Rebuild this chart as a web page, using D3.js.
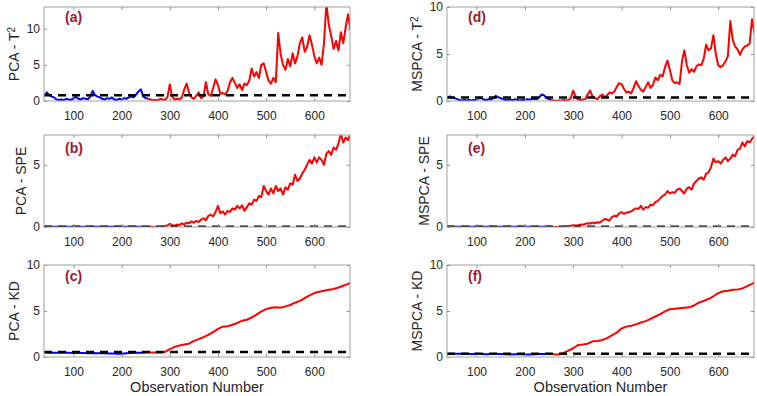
<!DOCTYPE html>
<html>
<head>
<meta charset="utf-8">
<script src="https://cdn.jsdelivr.net/npm/d3@7"></script>
<style>
  body { margin: 0; background: #fff; }
  svg { display: block; font-family: "Liberation Sans", Arial, Helvetica, sans-serif; }
</style>
</head>
<body>
<svg id="chart" width="757" height="396"></svg>
<script>
// Observation numbers (sampled)
const obs5 = d3.range(40, 676, 5);
const obs10 = d3.range(40, 671, 10).concat([675]);
const xTicks = [100, 200, 300, 400, 500, 600];
const splitObs = 255; // blue = normal, red = fault

// (a) PCA - T2
const pcaT2 = [
  0.7, 1.2, 0.8, 0.6, 0.5, 0.2, 0.15, 0.2, 0.1, 0.3,
  0.2, 0.15, 0.35, 0.6, 0.3, 0.2, 0.4, 0.3, 0.25, 0.6,
  1.4, 0.8, 0.6, 0.5, 0.3, 0.2, 0.4, 0.3, 0.5, 0.2,
  0.15, 0.3, 0.2, 0.4, 0.3, 0.5, 0.6, 0.5, 0.9, 1.3,
  1.6, 0.6, 0.4, 0.3,
  0.2, 0.1, 0.15, 0.1, 0.3, 0.2, 0.15, 0.5, 2.3, 0.6,
  0.2, 0.3, 0.2, 0.5, 1.6, 2.4, 1.1, 0.5, 0.3, 0.7,
  1.2, 0.4, 0.6, 2.6, 0.9, 0.7, 1.8, 3.0, 2.2, 1.0,
  1.1, 0.9, 1.4, 2.6, 3.2, 2.5, 1.8, 2.3, 1.5, 2.4,
  2.2, 2.8, 4.5, 3.4, 4.0, 3.2, 5.0, 5.2, 4.0, 2.8,
  2.4, 3.2, 2.6, 9.4, 6.5, 5.0, 4.3, 5.8, 4.8, 6.6,
  5.2, 6.2, 8.0, 8.8, 6.8, 7.5, 9.1, 7.8, 6.2, 5.2,
  6.0, 5.0, 8.0, 13.5, 10.5, 9.0, 7.2, 8.3, 7.0, 9.5,
  8.0, 10.2, 12.0, 9.8
];

// (b) PCA - SPE
const pcaSPE = [
  0.03, 0.02, 0.03, 0.02, 0.02, 0.03, 0.02, 0.02, 0.03, 0.02,
  0.02, 0.03, 0.02, 0.02, 0.03, 0.02, 0.02, 0.03, 0.02, 0.02,
  0.03, 0.02, 0.02, 0.03, 0.02, 0.02, 0.03, 0.02, 0.02, 0.03,
  0.02, 0.02, 0.03, 0.02, 0.02, 0.03, 0.02, 0.02, 0.03, 0.02,
  0.02, 0.03, 0.02, 0.02,
  0.02, 0.01, 0.02, 0.03, 0.02, 0.05, 0.08, 0.12, 0.25, 0.15,
  0.1, 0.2, 0.15, 0.3, 0.2, 0.35, 0.3, 0.45, 0.35, 0.5,
  0.4, 0.6, 0.7, 0.55, 0.9, 1.0, 0.85, 1.2, 1.7, 1.1,
  1.25, 1.0, 1.3, 1.2, 1.5, 1.4, 1.7, 1.5, 1.75, 1.3,
  1.6, 1.9, 1.8, 2.2, 2.1, 2.5, 2.4, 3.3, 2.9, 2.6,
  3.1, 2.7, 3.3, 2.9, 3.1, 2.6, 3.2, 3.0, 3.5, 3.4,
  4.2, 3.7, 3.9, 4.3, 4.6, 5.0, 5.4, 5.1, 5.6, 5.2,
  5.6, 5.4, 5.0, 5.9, 6.1, 5.8, 6.4, 6.2, 6.7, 7.5,
  6.8, 7.2, 7.0, 7.5
];

// (c) PCA - KD
const pcaKD = [
  0.48, 0.47, 0.46, 0.47, 0.45, 0.46, 0.44, 0.45, 0.43, 0.42,
  0.44, 0.42, 0.40, 0.39, 0.38, 0.36, 0.35, 0.40, 0.43, 0.45,
  0.47, 0.48,
  0.5, 0.5, 0.5, 0.55, 0.85, 1.1, 1.25, 1.35, 1.45, 1.75,
  1.95, 2.15, 2.4, 2.7, 3.05, 3.3, 3.35, 3.5, 3.7, 3.95,
  4.05, 4.3, 4.6, 4.95, 5.2, 5.35, 5.4, 5.35, 5.5, 5.65,
  5.9, 6.1, 6.4, 6.7, 6.95, 7.1, 7.2, 7.3, 7.4, 7.55,
  7.75, 7.95, 8.05
];

// (d) MSPCA - T2
const mspcaT2 = [
  0.3, 0.5, 0.35, 0.3, 0.2, 0.1, 0.05, 0.1, 0.05, 0.1,
  0.05, 0.1, 0.15, 0.3, 0.3, 0.15, 0.1, 0.2, 0.15, 0.3,
  0.55, 0.4, 0.3, 0.2, 0.1, 0.1, 0.15, 0.1, 0.2, 0.1,
  0.05, 0.1, 0.1, 0.2, 0.15, 0.2, 0.25, 0.2, 0.4, 0.7,
  0.6, 0.3, 0.2, 0.1,
  0.05, 0.02, 0.05, 0.02, 0.1, 0.05, 0.1, 0.3, 1.1, 0.5,
  0.15, 0.1, 0.15, 0.2, 0.7, 1.1, 0.5, 0.3, 0.2, 0.5,
  0.7, 0.4, 0.6, 0.9, 0.8, 1.0, 1.5, 1.9, 1.8, 1.3,
  0.9, 1.0, 0.8, 1.4, 2.1, 1.6, 1.2, 1.0, 1.5, 2.0,
  1.4, 1.7, 2.5, 2.2, 2.8, 2.6, 3.6, 4.3, 3.3, 2.2,
  1.9, 2.0, 1.8, 4.2, 5.4, 3.8, 3.0, 3.4, 3.1, 3.7,
  3.9, 3.8, 4.5, 6.0, 5.4, 5.6, 7.0, 5.0, 3.8, 3.6,
  3.8, 4.2, 4.8, 8.5, 6.5, 5.8, 5.5, 4.9, 5.5, 5.8,
  5.9, 6.1, 8.7, 7.2
];

// (e) MSPCA - SPE
const mspcaSPE = [
  0.02, 0.02, 0.03, 0.02, 0.02, 0.02, 0.03, 0.02, 0.02, 0.02,
  0.03, 0.02, 0.02, 0.02, 0.03, 0.02, 0.02, 0.02, 0.03, 0.02,
  0.02, 0.02, 0.03, 0.02, 0.02, 0.02, 0.03, 0.02, 0.02, 0.02,
  0.03, 0.02, 0.02, 0.02, 0.03, 0.02, 0.02, 0.02, 0.03, 0.02,
  0.02, 0.02, 0.03, 0.02,
  0.0, 0.0, 0.01, 0.0, 0.02, 0.05, 0.08, 0.1, 0.15, 0.12,
  0.15, 0.2, 0.18, 0.25, 0.3, 0.28, 0.35, 0.3, 0.38, 0.35,
  0.5, 0.65, 0.6, 0.5, 0.8, 0.9, 0.85, 1.1, 1.2, 1.05,
  1.15, 1.2, 1.25, 1.4, 1.5, 1.45, 1.7, 1.4, 1.6, 1.55,
  1.8, 1.75, 2.0, 2.1, 2.3, 2.5, 2.6, 2.9, 2.7, 2.8,
  2.75, 3.0, 3.1, 2.9, 2.7, 3.1, 3.2, 3.0, 3.5, 3.7,
  3.9, 4.0, 3.8, 4.3, 4.4, 4.8, 5.5, 5.2, 5.3, 5.1,
  5.4, 5.6, 5.3, 5.5, 5.8, 5.7, 6.2, 6.3, 6.8, 6.5,
  6.9, 6.8, 7.1, 7.3
];

// (f) MSPCA - KD
const mspcaKD = [
  0.35, 0.35, 0.34, 0.36, 0.35, 0.33, 0.35, 0.32, 0.30, 0.33,
  0.35, 0.32, 0.30, 0.28, 0.30, 0.32, 0.26, 0.28, 0.30, 0.32,
  0.33, 0.34,
  0.3, 0.28, 0.45, 0.7, 0.95, 1.3, 1.35, 1.45, 1.7, 1.75,
  1.85, 2.05, 2.35, 2.65, 3.1, 3.3, 3.4, 3.55, 3.75, 3.9,
  4.15, 4.4, 4.65, 4.95, 5.2, 5.25, 5.3, 5.35, 5.4, 5.6,
  5.9, 6.1, 6.3, 6.6, 6.95, 7.15, 7.2, 7.3, 7.35, 7.45,
  7.7, 7.95, 8.1
];

// Control limits (dashed lines)
const limits = { a: 0.78, b: 0.03, c: 0.55, d: 0.38, e: 0.03, f: 0.36 };

// Panel setup
const panels = [
  { id: "a", col: 0, row: 0, label: "PCA - T", sup: "2", obs: obs5, vals: pcaT2, ymax: 13, yticks: [0, 5, 10] },
  { id: "b", col: 0, row: 1, label: "PCA - SPE", sup: "", obs: obs5, vals: pcaSPE, ymax: 7.4, yticks: [0, 5] },
  { id: "c", col: 0, row: 2, label: "PCA - KD", sup: "", obs: obs10, vals: pcaKD, ymax: 10, yticks: [0, 5, 10] },
  { id: "d", col: 1, row: 0, label: "MSPCA - T", sup: "2", obs: obs5, vals: mspcaT2, ymax: 10, yticks: [0, 5, 10] },
  { id: "e", col: 1, row: 1, label: "MSPCA - SPE", sup: "", obs: obs5, vals: mspcaSPE, ymax: 7.4, yticks: [0, 5] },
  { id: "f", col: 1, row: 2, label: "MSPCA - KD", sup: "", obs: obs10, vals: mspcaKD, ymax: 10, yticks: [0, 5, 10] }
];

const colLeft = [44, 447];
const colWidth = [306, 307];
const rowTop = [7, 135, 265];
const rowHeight = [94, 92, 92];
const labelDy = [14.5, 18, 15.5];

const svg = d3.select("#chart");

panels.forEach((p) => {
  const W = colWidth[p.col];
  const H = rowHeight[p.row];
  const g = svg.append("g")
    .attr("transform", "translate(" + colLeft[p.col] + "," + rowTop[p.row] + ")");

  const x = d3.scaleLinear().domain([39, 674]).range([0, W]);
  const y = d3.scaleLinear().domain([0, p.ymax]).range([H, 0]);

  // clip
  g.append("clipPath").attr("id", "clip-" + p.id)
    .append("rect").attr("width", W).attr("height", H);

  const pts = p.obs.map((o, i) => ({ o: o, v: p.vals[i] }));
  let lastBlue = 0;
  pts.forEach((d, i) => { if (d.o <= splitObs) lastBlue = i; });
  const blue = pts.slice(0, lastBlue + 1);
  const red = pts.slice(lastBlue);

  const line = d3.line().x((d) => x(d.o)).y((d) => y(d.v));

  const plot = g.append("g").attr("clip-path", "url(#clip-" + p.id + ")");
  plot.append("path").datum(blue).attr("d", line)
    .attr("fill", "none").attr("stroke", "#0000ff").attr("stroke-width", 2)
    .attr("stroke-linejoin", "round");
  plot.append("path").datum(red).attr("d", line)
    .attr("fill", "none").attr("stroke", "#ff0000").attr("stroke-width", 2)
    .attr("stroke-linejoin", "round");

  // control limit
  plot.append("line")
    .attr("x1", 0).attr("x2", W)
    .attr("y1", y(limits[p.id])).attr("y2", y(limits[p.id]))
    .attr("stroke", "#000").attr("stroke-width", 2.5)
    .attr("stroke-dasharray", "8,6");

  // axes (ticks inward, MATLAB style)
  g.append("g").attr("transform", "translate(0," + H + ")")
    .call(d3.axisBottom(x).tickValues(xTicks).tickSizeInner(-3).tickSizeOuter(0).tickPadding(10));
  g.append("g")
    .call(d3.axisLeft(y).tickValues(p.yticks).tickSizeInner(-3).tickSizeOuter(0).tickPadding(4));
  g.append("g").attr("transform", "translate(" + W + ",0)")
    .call(d3.axisRight(y).tickValues(p.yticks).tickSizeInner(-3).tickSizeOuter(0).tickFormat(""));
  g.append("g")
    .call(d3.axisTop(x).tickValues(xTicks).tickSizeInner(-3).tickSizeOuter(0).tickFormat(""));

  g.selectAll(".domain").remove();
  g.selectAll(".tick line").attr("stroke", "#8c8c8c");
  g.selectAll(".tick text").attr("fill", "#262626").style("font-size", "12px")
    .style("font-family", "'Liberation Sans', Arial, sans-serif");

  // box
  g.append("rect").attr("x", 0).attr("y", 0).attr("width", W).attr("height", H)
    .attr("fill", "none").attr("stroke", "#a0a0a0").attr("stroke-width", 1);

  // y label
  const yl = g.append("text")
    .attr("transform", "translate(" + (p.ymax >= 10 ? -25 : -18.5) + "," + H / 2 + ") rotate(-90)")
    .attr("text-anchor", "middle")
    .attr("fill", "#262626")
    .style("font-size", "14px")
    .text(p.label);
  if (p.sup) {
    yl.append("tspan").attr("dy", "-0.45em").style("font-size", "10px").text(p.sup);
  }

  // panel letter
  g.append("text")
    .attr("x", 21).attr("y", labelDy[p.row])
    .attr("fill", "#a2142f")
    .style("font-size", "14px").style("font-weight", "bold")
    .text("(" + p.id + ")");

  // x label on bottom row
  if (p.row === 2) {
    g.append("text")
      .attr("x", W / 2).attr("y", 392 - rowTop[p.row])
      .attr("text-anchor", "middle")
      .attr("fill", "#262626")
      .style("font-size", "14.5px")
      .text("Observation Number");
  }
});
</script>
</body>
</html>
